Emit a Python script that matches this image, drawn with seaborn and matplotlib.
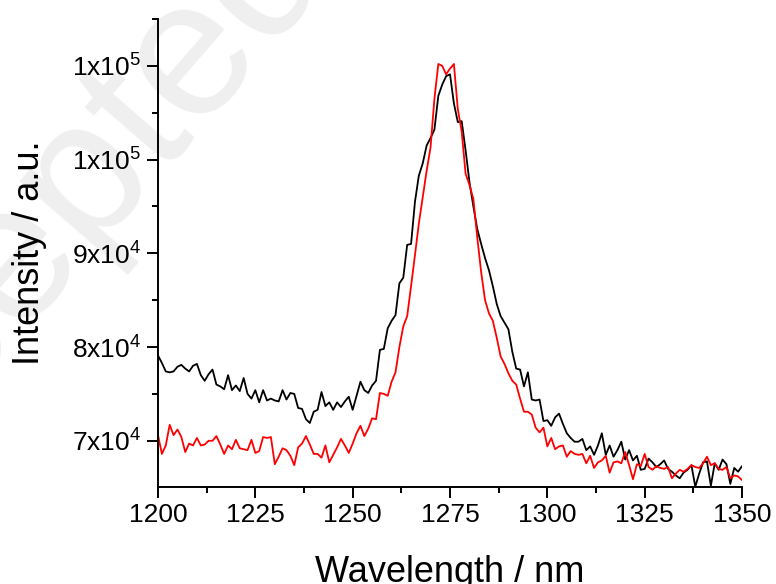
import numpy as np
import pandas as pd
import matplotlib
matplotlib.use("Agg")
import matplotlib.pyplot as plt
from matplotlib.ticker import MultipleLocator, FixedLocator
import seaborn as sns

# wavelength grid, 1 nm steps
wavelength = list(range(1200, 1351))

# black trace
black = [
    79100, 78300, 77400, 77300, 77400, 77900, 78100, 77700, 77400, 78000,  # 1200
    78200, 77000, 76400, 77100, 77600, 76000, 75800, 75500, 77000, 75400,  # 1210
    75900, 75300, 76700, 75000, 74500, 75400, 74100, 75400, 74300, 74500,  # 1220
    74300, 74200, 75400, 74400, 75100, 75000, 73500, 73400, 72300, 71900,  # 1230
    73100, 73300, 75200, 73700, 74100, 73300, 74100, 73600, 74200, 74700,  # 1240
    73300, 74800, 76300, 75400, 75100, 75900, 76400, 79700, 79800, 82000,  # 1250
    82800, 83400, 86800, 87400, 90900, 91000, 95500, 98300, 99600, 101500,  # 1260
    102300, 103200, 106800, 108000, 108900, 109100, 106000, 104000, 104100, 101000,  # 1270
    97600, 95000, 92600, 91000, 89500, 88200, 86500, 84600, 83300, 82600,  # 1280
    81900, 79500, 77700, 77600, 75800, 77300, 74400, 74300, 74400, 72100,  # 1290
    72200, 71600, 72500, 72900, 71800, 70800, 70300, 69900, 69900, 70200,  # 1300
    69000, 69400, 68500, 69500, 70800, 68500, 69500, 68300, 69000, 69900,  # 1310
    68000, 69000, 67900, 68400, 66900, 67000, 68100, 67700, 67200, 67500,  # 1320
    67900, 67000, 66700, 66300, 66000, 66600, 66900, 67400, 65100, 66500,  # 1330
    67700, 67800, 65200, 67600, 66900, 68000, 67500, 65400, 67100, 66700,  # 1340
    67300,
]

# red trace
red = [
    70600, 68600, 69500, 71700, 70600, 71200, 70400, 68800, 69700, 69500,  # 1200
    70300, 69500, 69600, 70000, 70000, 70500, 69600, 68600, 69500, 69100,  # 1210
    70100, 69200, 69100, 69000, 70100, 68700, 68900, 70400, 70300, 70400,  # 1220
    67500, 68300, 69200, 69000, 68400, 67400, 69300, 69700, 70500, 69600,  # 1230
    68600, 68600, 68200, 69500, 67700, 68500, 69300, 70200, 69500, 68700,  # 1240
    69700, 70800, 71600, 70500, 71300, 72400, 72300, 75100, 75000, 74800,  # 1250
    76300, 77300, 80000, 82200, 83300, 86500, 89800, 93200, 96000, 98800,  # 1260
    101300, 106500, 110200, 110000, 109100, 109700, 110200, 105400, 103000, 98500,  # 1270
    97300, 95800, 91700, 88000, 85000, 83600, 82800, 81000, 79000, 78200,  # 1280
    77200, 76400, 76000, 74500, 73100, 73100, 72800, 71400, 70900, 71400,  # 1290
    69400, 70300, 69100, 69400, 69500, 68300, 68900, 68600, 68500, 68600,  # 1300
    67600, 68400, 67100, 67700, 67900, 68400, 66600, 67700, 67800, 67600,  # 1310
    68800, 67400, 65900, 67500, 67300, 68600, 67200, 66900, 67300, 67100,  # 1320
    67000, 67200, 66000, 66500, 66900, 66700, 67000, 67400, 67200, 67100,  # 1330
    67600, 68300, 67400, 67600, 67000, 66900, 67200, 66000, 66300, 66200,  # 1340
    65800,
]

x_ticks = [1200, 1225, 1250, 1275, 1300, 1325, 1350]
y_ticks = [70000, 80000, 90000, 100000, 110000]
y_tick_labels = ["7x10$^4$", "8x10$^4$", "9x10$^4$", "1x10$^5$", "1x10$^5$"]

df = pd.DataFrame({
    "wavelength": wavelength * 2,
    "intensity": black + red,
    "trace": ["black"] * len(black) + ["red"] * len(red),
})

sns.set_style("ticks")
plt.rcParams["font.family"] = ["Liberation Sans", "DejaVu Sans"]
plt.rcParams["mathtext.fontset"] = "custom"
plt.rcParams["mathtext.rm"] = "Liberation Sans"
plt.rcParams["mathtext.default"] = "regular"
for key in ["text.color", "axes.labelcolor", "xtick.color", "ytick.color", "axes.edgecolor"]:
    plt.rcParams[key] = "black"

fig = plt.figure(figsize=(7.76, 5.84), dpi=100)
ax = fig.add_axes([0.2036, 0.1666, 0.7526, 0.8009])
ax.set_facecolor("none")
ax.set_zorder(2)

# faint watermark behind everything
fig.text(-0.25, 0.0, "Accepted", fontsize=140, color="#efefef",
         rotation=49, rotation_mode="anchor", ha="left", va="baseline", zorder=-5)

sns.lineplot(data=df, x="wavelength", y="intensity", hue="trace",
             palette={"black": "black", "red": "#ff0000"}, linewidth=1.3,
             legend=False, ax=ax)

ax.set_xlim(1200, 1350)
ax.set_ylim(65100, 115000)
ax.xaxis.set_major_locator(FixedLocator(x_ticks))
ax.xaxis.set_minor_locator(MultipleLocator(12.5))
ax.yaxis.set_major_locator(FixedLocator(y_ticks))
ax.yaxis.set_minor_locator(MultipleLocator(5000))
ax.set_yticklabels(y_tick_labels)

ax.tick_params(which="major", length=8, width=1.4, labelsize=19, pad=4)
ax.tick_params(which="minor", length=4.3, width=1.4)
for side in ["left", "bottom"]:
    ax.spines[side].set_linewidth(1.4)
sns.despine(ax=ax)

ax.set_xlabel("Wavelength / nm", fontsize=26, labelpad=20)
ax.set_ylabel("Intensity / a.u.", fontsize=26, labelpad=18)

fig.savefig("out.png", dpi=100)
